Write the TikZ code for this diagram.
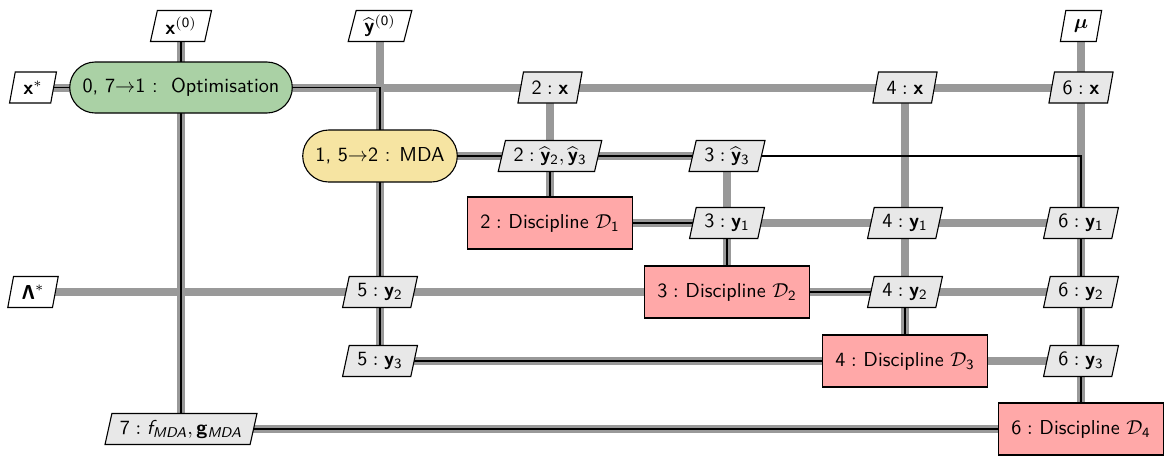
\documentclass[tikz,border=0pt]{standalone}
\usepackage{amsmath}
\usetikzlibrary{shapes.geometric,shapes.misc}
\DeclareMathAlphabet{\mathsfbf}{OT1}{cmss}{bx}{n}
\DeclareMathAlphabet{\mathsfit}{OT1}{cmss}{m}{sl}
\definecolor{optfill}{RGB}{170,209,165}
\definecolor{mdafill}{RGB}{246,228,162}
\definecolor{discfill}{RGB}{255,168,168}
\definecolor{datafill}{RGB}{232,232,232}
\definecolor{dataline}{RGB}{153,153,153}
\pgfdeclarelayer{background}
\pgfsetlayers{background,main}
\def\px{0.496pt}
\tikzset{
  base/.style={draw=black, line width=1.1*\px, font=\sffamily, text=black},
  optbox/.style={base, rounded rectangle, fill=optfill, minimum width=236*\px, minimum height=51*\px},
  mdabox/.style={base, rounded rectangle, fill=mdafill, minimum width=168*\px, minimum height=52*\px},
  discbox/.style={base, rectangle, fill=discfill, minimum width=165*\px, minimum height=52*\px},
  databox/.style={base, trapezium, trapezium left angle=74, trapezium right angle=106,
     trapezium stretches body, fill=datafill, minimum height=31*\px, inner xsep=4pt, inner ysep=1.5pt},
  inbox/.style={databox, fill=white},
  dataconn/.style={draw=dataline, line width=8*\px},
  procconn/.style={draw=black, line width=1.8*\px},
}
\begin{document}
\begin{tikzpicture}[x=0.496pt,y=-0.496pt]
\useasboundingbox (0,0) rectangle (1165,455);
% columns / rows
\def\cA{33}\def\cB{181}\def\cC{380}\def\cD{550}\def\cE{727}\def\cF{905}\def\cG{1081}
\def\rA{26}\def\rB{87.5}\def\rC{156}\def\rD{223}\def\rE{292}\def\rF{361}\def\rG{429}
% inputs
\node[inbox] (x0) at (\cB,\rA) {$\mathsfbf{x}^{\mathsf{(0)}}$};
\node[inbox] (yh0) at (\cC,\rA) {$\widehat{\mathsfbf{y}}^{\mathsf{(0)}}$};
\node[inbox] (mu) at (\cG,\rA) {$\boldsymbol{\mu}$};
\node[inbox] (xs) at (\cA,\rB) {$\mathsfbf{x}^{*}$};
\node[inbox] (lam) at (\cA,\rE) {$\mathsfbf{\Lambda}^{*}$};
% process nodes
\node[optbox] (opt) at (\cB,\rB) {0, 7$\rightarrow$1 :\ \ Optimisation};
\node[mdabox] (mda) at (\cC,\rC) {1, 5$\rightarrow$2 : MDA};
\node[discbox] (d1) at (\cD,\rD) {$\mathsf{2}:$ Discipline $\mathcal{D}_{\mathsf{1}}$};
\node[discbox] (d2) at (\cE,\rE) {$\mathsf{3}:$ Discipline $\mathcal{D}_{\mathsf{2}}$};
\node[discbox] (d3) at (\cF,\rF) {$\mathsf{4}:$ Discipline $\mathcal{D}_{\mathsf{3}}$};
\node[discbox] (d4) at (\cG,\rG) {$\mathsf{6}:$ Discipline $\mathcal{D}_{\mathsf{4}}$};
% data nodes
\node[databox] (x2) at (\cD,\rB) {$\mathsf{2}:\mathsfbf{x}$};
\node[databox] (x4) at (\cF,\rB) {$\mathsf{4}:\mathsfbf{x}$};
\node[databox] (x6) at (\cG,\rB) {$\mathsf{6}:\mathsfbf{x}$};
\node[databox] (yh23) at (\cD,\rC) {$\mathsf{2}:\widehat{\mathsfbf{y}}_{\mathsf{2}},\widehat{\mathsfbf{y}}_{\mathsf{3}}$};
\node[databox] (yh3) at (\cE,\rC) {$\mathsf{3}:\widehat{\mathsfbf{y}}_{\mathsf{3}}$};
\node[databox] (ya3) at (\cE,\rD) {$\mathsf{3}:\mathsfbf{y}_{\mathsf{1}}$};
\node[databox] (ya4) at (\cF,\rD) {$\mathsf{4}:\mathsfbf{y}_{\mathsf{1}}$};
\node[databox] (ya6) at (\cG,\rD) {$\mathsf{6}:\mathsfbf{y}_{\mathsf{1}}$};
\node[databox] (yb5) at (\cC,\rE) {$\mathsf{5}:\mathsfbf{y}_{\mathsf{2}}$};
\node[databox] (yb4) at (\cF,\rE) {$\mathsf{4}:\mathsfbf{y}_{\mathsf{2}}$};
\node[databox] (yb6) at (\cG,\rE) {$\mathsf{6}:\mathsfbf{y}_{\mathsf{2}}$};
\node[databox] (yc5) at (\cC,\rF) {$\mathsf{5}:\mathsfbf{y}_{\mathsf{3}}$};
\node[databox] (yc6) at (\cG,\rF) {$\mathsf{6}:\mathsfbf{y}_{\mathsf{3}}$};
\node[databox] (f7) at (\cB,\rG) {$\mathsf{7}:\mathsfit{f}_{\mathsfit{MDA}},\mathsfbf{g}_{\mathsfit{MDA}}$};
% connectors
\begin{pgfonlayer}{background}
  % data (gray)
  \draw[dataconn] (x0.center) -- (f7.center);
  \draw[dataconn] (yh0.center) -- (yc5.center);
  \draw[dataconn] (x2.center) -- (d1.center);
  \draw[dataconn] (yh3.center) -- (d2.center);
  \draw[dataconn] (x4.center) -- (d3.center);
  \draw[dataconn] (mu.center) -- (d4.center);
  \draw[dataconn] (xs.center) -- (x6.center);
  \draw[dataconn] (mda.center) -- (yh3.center);
  \draw[dataconn] (d1.center) -- (ya6.center);
  \draw[dataconn] (lam.center) -- (yb6.center);
  \draw[dataconn] (yc5.center) -- (yc6.center);
  \draw[dataconn] (f7.center) -- (d4.center);
  % process (black)
  \draw[procconn] (x0.center) -- (f7.center);
  \draw[procconn] (xs.center) -- (opt.center);
  \draw[procconn] (opt.center) -| (mda.center);
  \draw[procconn] (mda.center) -- (yc5.center);
  \draw[procconn] (mda.center) -- (yh3.center);
  \draw[procconn] (yh3.center) -| (d4.center);
  \draw[procconn] (yh23.center) -- (d1.center);
  \draw[procconn] (d1.center) -- (ya3.center);
  \draw[procconn] (ya3.center) -- (d2.center);
  \draw[procconn] (d2.center) -- (yb4.center);
  \draw[procconn] (yb4.center) -- (d3.center);
  \draw[procconn] (yc5.center) -- (d3.center);
  \draw[procconn] (f7.center) -- (d4.center);
\end{pgfonlayer}
\end{tikzpicture}
\end{document}
